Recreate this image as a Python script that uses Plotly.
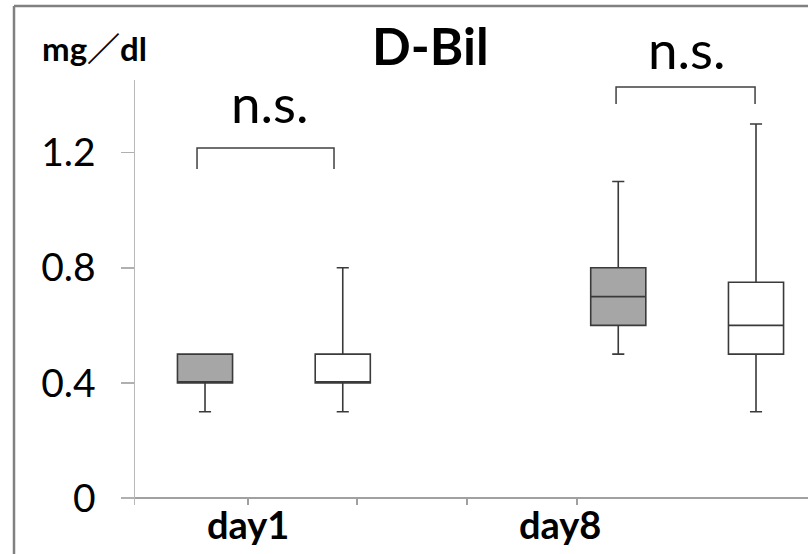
import plotly.graph_objects as go

# ---- data ----
groups = ["day1", "day8"]
box_pos = [1, 2, 4, 5]
box_fill = ["#a6a6a6", "#ffffff", "#a6a6a6", "#ffffff"]
q1 = [0.4, 0.4, 0.6, 0.5]
median = [0.4, 0.4, 0.7, 0.6]
q3 = [0.5, 0.5, 0.8, 0.75]
lowerfence = [0.3, 0.3, 0.5, 0.3]
upperfence = [0.5, 0.8, 1.1, 1.3]

y_tickvals = [0, 0.4, 0.8, 1.2]
y_ticktext = ["0", "0.4", "0.8", "1.2"]
x_tickvals = [1.312, 2.103, 2.902, 3.700]
group_label_x = [1.312, 3.577]

sig_text = ["n.s.", "n.s."]
sig_x = [1.47, 4.5]
sig_y_px = [102, 49]  # vertical centre of the label, pixels from top of figure
bracket_x0 = [0.942, 3.984]
bracket_x1 = [1.9365, 4.993]
bracket_top = [1.216, 1.428]
bracket_bottom = [1.143, 1.369]

FONT = "Lato, 'Noto Sans CJK JP', sans-serif"
PLOT_TOP, PLOT_BOTTOM = 80, 505


def paper_y(px):
    return (PLOT_BOTTOM - px) / (PLOT_BOTTOM - PLOT_TOP)


fig = go.Figure()
for i in range(len(box_pos)):
    fig.add_trace(go.Box(
        x=[box_pos[i]], q1=[q1[i]], median=[median[i]], q3=[q3[i]],
        lowerfence=[lowerfence[i]], upperfence=[upperfence[i]],
        width=0.4, whiskerwidth=0.22, boxpoints=False,
        fillcolor=box_fill[i], line=dict(color="#3a3a3a", width=1.6),
        showlegend=False, hoverinfo="skip",
    ))

shapes = []
for i in range(len(bracket_x0)):
    shapes.append(dict(
        type="path", xref="x", yref="y",
        path=f"M {bracket_x0[i]},{bracket_bottom[i]} L {bracket_x0[i]},{bracket_top[i]} "
             f"L {bracket_x1[i]},{bracket_top[i]} L {bracket_x1[i]},{bracket_bottom[i]}",
        line=dict(color="#404040", width=1.5),
    ))
# outer frame (left and top edges visible)
fx = (14 - 135) / 673
fy = paper_y(6)
shapes.append(dict(type="line", xref="paper", yref="paper",
                   x0=fx, x1=fx, y0=fy, y1=-0.2,
                   line=dict(color="#808080", width=2.5)))
shapes.append(dict(type="line", xref="paper", yref="paper",
                   x0=fx, x1=1.05, y0=fy, y1=fy,
                   line=dict(color="#808080", width=2.5)))

annotations = []
for i in range(len(sig_text)):
    annotations.append(dict(x=sig_x[i], y=paper_y(sig_y_px[i]), xref="x", yref="paper",
                            text=sig_text[i],
                            showarrow=False, xanchor="center", yanchor="middle",
                            font=dict(family=FONT, size=53, color="black")))
for i in range(len(groups)):
    annotations.append(dict(x=group_label_x[i], y=paper_y(524), xref="x", yref="paper",
                            text=f"<b>{groups[i]}</b>", showarrow=False,
                            xanchor="center", yanchor="middle",
                            font=dict(family=FONT, size=38, color="black")))
annotations.append(dict(x=(430 - 135) / 673, y=paper_y(45), xref="paper", yref="paper",
                        text="<b>D-Bil</b>", showarrow=False, xanchor="center", yanchor="middle",
                        font=dict(family=FONT, size=51, color="black")))
annotations.append(dict(x=(40 - 135) / 673, y=paper_y(48), xref="paper", yref="paper",
                        text="<b>mg／dl</b>", showarrow=False, xanchor="left", yanchor="middle",
                        font=dict(family=FONT, size=33, color="black")))

fig.update_layout(
    width=808, height=554,
    margin=dict(l=135, r=0, t=PLOT_TOP, b=554 - PLOT_BOTTOM, autoexpand=False),
    paper_bgcolor="white", plot_bgcolor="white",
    boxmode="overlay",
    shapes=shapes, annotations=annotations,
    xaxis=dict(range=[0.4918, 5.3774], tickvals=x_tickvals, ticktext=["", "", "", ""],
               ticks="inside", ticklen=7, tickcolor="#a0a0a0", tickwidth=1.2,
               showline=False, showgrid=False, zeroline=False, fixedrange=True,
               automargin=False),
    yaxis=dict(range=[-0.0243, 1.4527], tickvals=y_tickvals, ticktext=y_ticktext,
               ticks="outside", ticklen=13, tickcolor="#b0b0b0", tickwidth=1.5,
               showline=True, linecolor="#b8b8b8", linewidth=1.5,
               showgrid=False, zeroline=True, zerolinecolor="#a0a0a0", zerolinewidth=1.5,
               ticklabelstandoff=17, automargin=False,
               tickfont=dict(family=FONT, size=39, color="black"), fixedrange=True),
)

fig.write_html("out.html", config={"displayModeBar": False, "staticPlot": True},
               post_script="document.body.style.margin='0';document.body.style.padding='0';")
